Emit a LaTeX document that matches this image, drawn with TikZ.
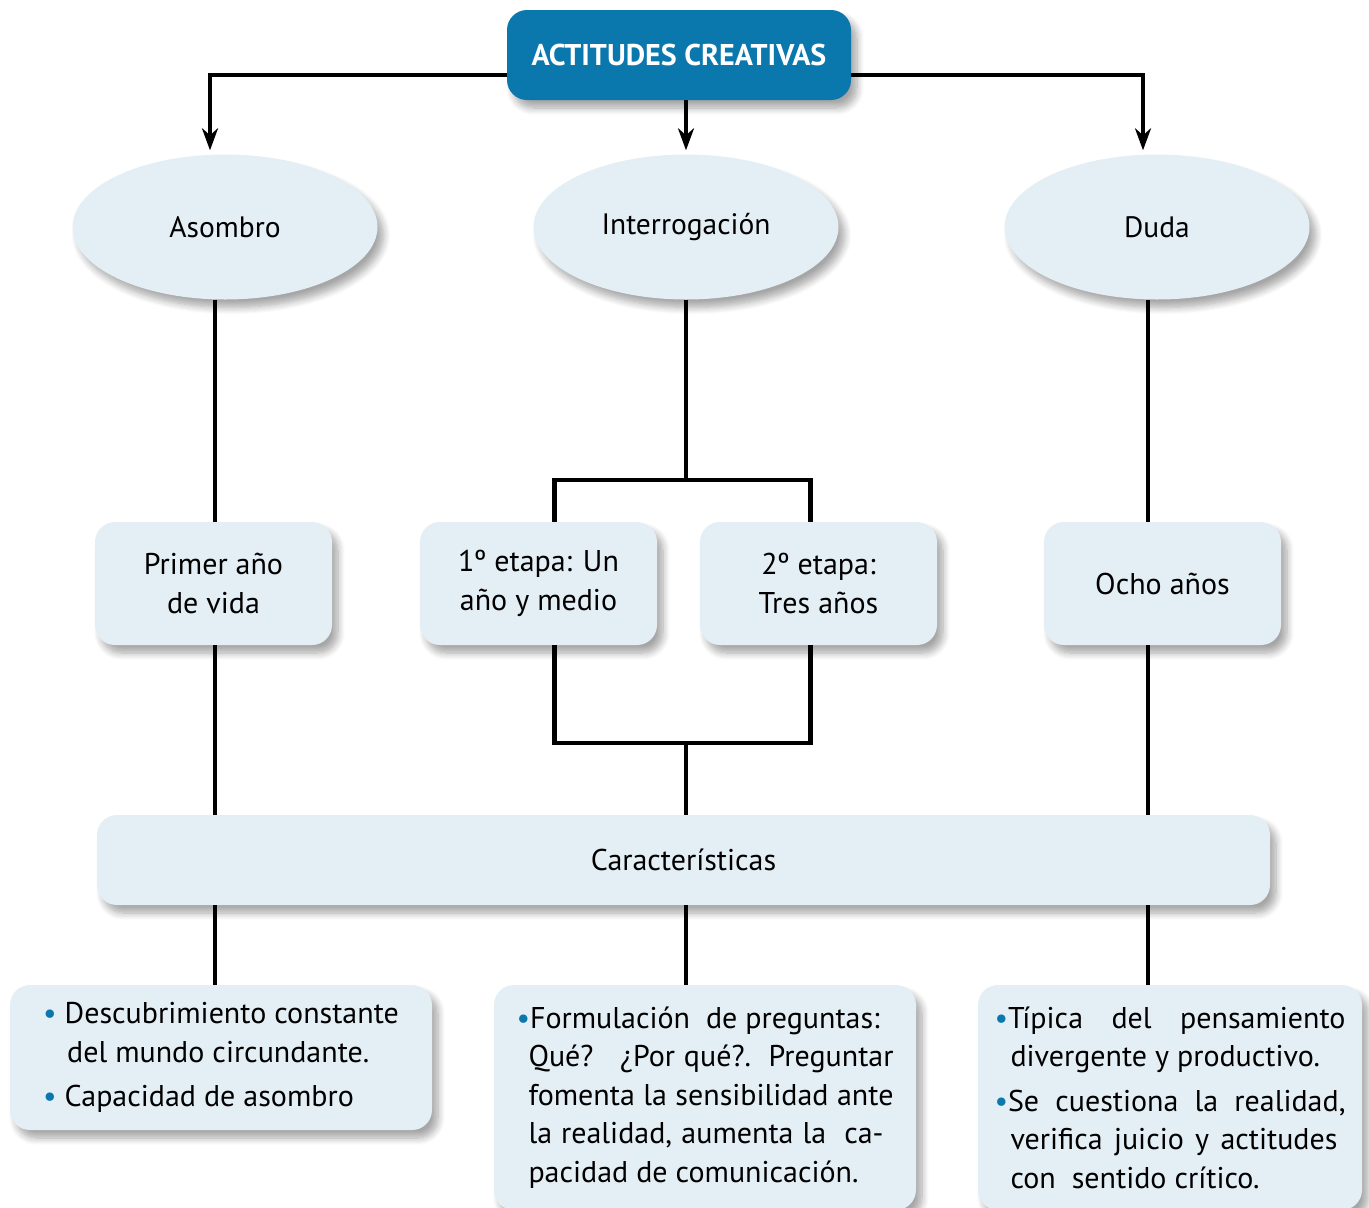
\documentclass[tikz,border=0pt]{standalone}
\usepackage{fontspec}
\setmainfont{PT Sans}
\usetikzlibrary{shapes.geometric,shadows.blur,arrows.meta}

\definecolor{azultitulo}{HTML}{0A77AD}
\definecolor{celeste}{HTML}{E4EEF5}
\newcommand{\pto}{\textcolor{azultitulo}{\textbullet}}
\newcommand{\lin}[2]{\makebox[#1][s]{#2}}

\tikzset{
  sombra/.style={blur shadow={shadow xshift=6pt, shadow yshift=-8pt, shadow blur radius=7pt, shadow blur steps=8, shadow opacity=35}},
  caja/.style={rectangle, rounded corners=20pt, fill=celeste, sombra, align=center, inner sep=0pt,
    font=\fontsize{30}{38.5}\selectfont},
  ovalo/.style={ellipse, fill=celeste, sombra, minimum width=305pt, minimum height=145pt, inner sep=0pt,
    font=\fontsize{29.5}{34}\selectfont},
  titulo/.style={caja, fill=azultitulo, text=white, font=\bfseries\fontsize{30}{34}\selectfont},
  conector/.style={line width=4.5pt},
  flecha/.style={line width=4pt, -{Stealth[length=22pt,width=16pt,inset=7pt]}, shorten >=4pt},
}

\begin{document}
\begin{tikzpicture}[x=1pt,y=-1pt]
\useasboundingbox (0,0) rectangle (1369,1208);

% columnas
\coordinate (colA) at (215,0);
\coordinate (colB) at (686,0);
\coordinate (colC) at (1148,0);

\node[titulo, minimum width=344pt, minimum height=90pt] (titulo) at (679,55) {ACTITUDES CREATIVAS};

\node[ovalo] (asombro) at (225,227) {Asombro};
\node[ovalo] (interrog) at (686,227) {Interrogación};
\node[ovalo] (duda) at (1157,227) {Duda};

\node[caja, minimum width=237pt, minimum height=123pt] (primer) at (213.5,583.5) {Primer año\\de vida};
\node[caja, minimum width=237pt, minimum height=123pt] (etapa1) at (538.5,583.5) {1º etapa: Un\\año y medio};
\node[caja, minimum width=237pt, minimum height=123pt] (etapa2) at (818.5,583.5) {2º etapa:\\Tres años};
\node[caja, minimum width=237pt, minimum height=123pt] (ocho) at (1162.5,583.5) {Ocho años};

\node[caja, minimum width=1173pt, minimum height=90pt] (caract) at (683.5,860) {Características};

\node[caja, align=left, minimum width=422pt, minimum height=145pt] (cajaA) at (221,1057.5)
  {\pto\ Descubrimiento constante\\
   \hspace*{24pt}del mundo circundante.\\[6pt]
   \pto\ Capacidad de asombro};
\node[caja, align=left, minimum width=422pt, minimum height=225pt] (cajaB) at (705,1097.5)
  {\pto Formulación\ \ de preguntas:\\
   \hspace*{12pt}\lin{365pt}{Qué?\ \ \ ¿Por qué?.\ \ Preguntar}\\
   \hspace*{12pt}\lin{365pt}{fomenta la sensibilidad ante}\\
   \hspace*{12pt}\lin{355pt}{la realidad, aumenta la\ \ ca-}\\
   \hspace*{12pt}pacidad de comunicación.};
\node[caja, align=left, minimum width=384pt, minimum height=225pt] (cajaC) at (1170,1097.5)
  {\lin{351pt}{\pto Típica del pensamiento}\\
   \hspace*{16pt}divergente y productivo.\\[6pt]
   \lin{351pt}{\pto Se cuestiona la realidad,}\\
   \hspace*{16pt}\lin{327pt}{verifica juicio y actitudes}\\
   \hspace*{16pt}con\ \ sentido crítico.};

% flechas del titulo
\draw[flecha] ([yshift=-20pt]titulo.west) -| ([xshift=-15pt]asombro.north);
\draw[flecha] (titulo.south -| colB) -- (interrog.north);
\draw[flecha] ([yshift=-20pt]titulo.east) -| ([xshift=-14pt]duda.north);

% lineas
\coordinate (horq1) at (686,480);
\coordinate (horq2) at (686,743);
\draw[conector] (asombro.south -| colA) -- (primer.north -| colA);
\draw[conector] (interrog.south) -- (horq1);
\draw[conector] ([xshift=16pt]etapa1.north) |- (horq1) -| ([xshift=-8pt]etapa2.north);
\draw[conector] (duda.south -| colC) -- (ocho.north -| colC);

\draw[conector] (primer.south -| colA) -- (caract.north -| colA);
\draw[conector] ([xshift=16pt]etapa1.south) |- (horq2) -| ([xshift=-8pt]etapa2.south);
\draw[conector] (horq2) -- (caract.north -| horq2);
\draw[conector] (ocho.south -| colC) -- (caract.north -| colC);

\draw[conector] (caract.south -| colA) -- (cajaA.north -| colA);
\draw[conector] (caract.south -| colB) -- (cajaB.north -| colB);
\draw[conector] (caract.south -| colC) -- (cajaC.north -| colC);

\end{tikzpicture}
\end{document}
